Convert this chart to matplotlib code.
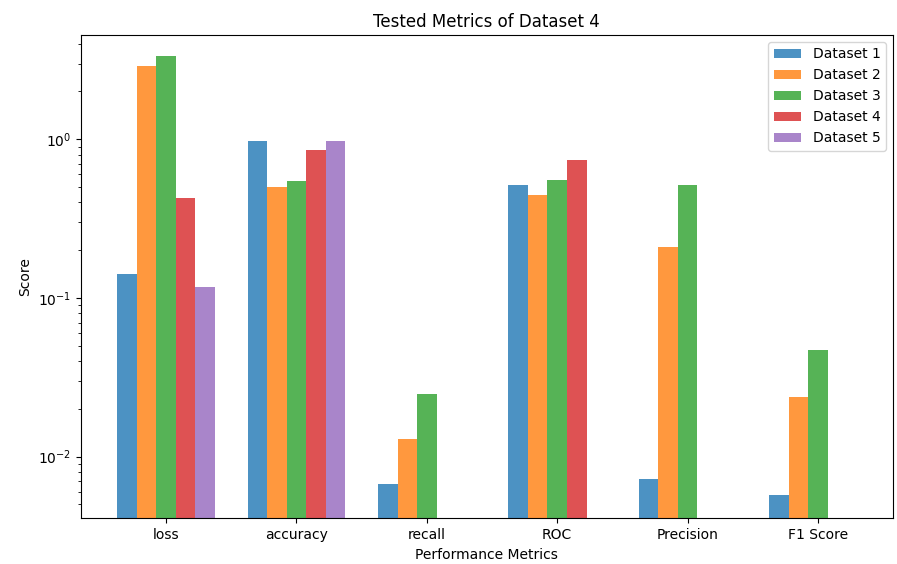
#!/usr/bin/env python3
"""Grouped log-scale bar chart of tested metrics per dataset."""

import numpy as np
import matplotlib
matplotlib.use("Agg")
import matplotlib.pyplot as plt

# Metric categories on the x axis
METRICS = ["loss", "accuracy", "recall", "ROC", "Precision", "F1 Score"]
DATASETS = ["Dataset 1", "Dataset 2", "Dataset 3", "Dataset 4", "Dataset 5"]

# Scores per dataset, in METRICS order (0 = no bar shown)
dataset_1 = [0.142, 0.98, 0.0067, 0.515, 0.0072, 0.0057]
dataset_2 = [2.90, 0.497, 0.0129, 0.446, 0.211, 0.0239]
dataset_3 = [3.35, 0.545, 0.0249, 0.554, 0.515, 0.0467]
dataset_4 = [0.425, 0.85, 0.0, 0.741, 0.0, 0.0]
dataset_5 = [0.118, 0.98, 0.0, 0.0, 0.0, 0.0]

SERIES = [dataset_1, dataset_2, dataset_3, dataset_4, dataset_5]
COLORS = ["tab:blue", "tab:orange", "tab:green", "tab:red", "tab:purple"]


def main():
    fig = plt.figure(figsize=(8.97, 5.64), dpi=100)
    ax = fig.add_axes([0.09, 0.081, 0.9055, 0.857])

    x = np.arange(len(METRICS))
    width = 0.15
    for i, (name, vals, color) in enumerate(zip(DATASETS, SERIES, COLORS)):
        vals = np.asarray(vals, dtype=float)
        heights = np.where(vals > 0, vals, np.nan)
        ax.bar(x + (i - 2) * width, heights, width, label=name,
               color=color, alpha=0.8)

    ax.set_yscale("log")
    ax.set_ylim(0.00409, 4.54)
    ax.set_xlim(-0.655, 5.575)
    ax.set_xticks(x)
    ax.set_xticklabels(METRICS)
    ax.set_xlabel("Performance Metrics")
    ax.set_ylabel("Score")
    ax.set_title("Tested Metrics of Dataset 4")
    ax.legend(loc="upper right")

    fig.savefig("out.png", dpi=100)
    plt.close(fig)


if __name__ == "__main__":
    main()
